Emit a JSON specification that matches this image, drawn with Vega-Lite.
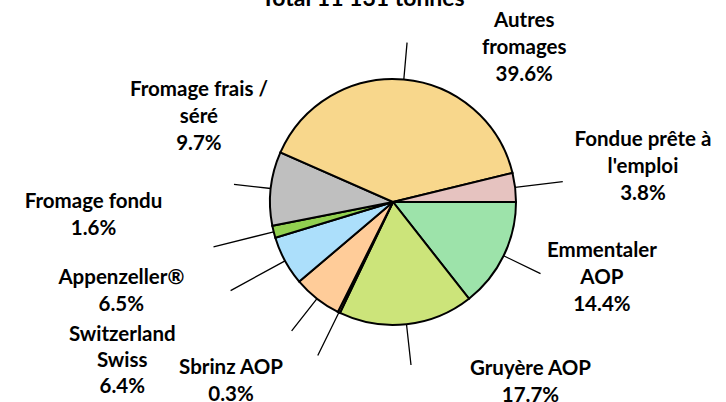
{
  "$schema": "https://vega.github.io/schema/vega-lite/v6.json",
  "width": 666,
  "height": 384,
  "autosize": {"type": "none"},
  "padding": {"left": 60, "top": 10, "right": 0, "bottom": 8},
  "background": "white",
  "title": {"text": "Total 11 131 tonnes", "font": "Lato", "fontSize": 23, "fontWeight": "bold", "color": "black", "anchor": "middle", "baseline": "alphabetic", "dx": -30, "offset": -19},
  "config": {"view": {"stroke": null}},
  "data": {"values": [
    {"cat": "Emmentaler AOP", "o": 1, "share": 14.4, "label": "Emmentaler\nAOP\n14.4%"},
    {"cat": "Gruyère AOP", "o": 2, "share": 17.7, "label": "Gruyère AOP\n17.7%"},
    {"cat": "Sbrinz AOP", "o": 3, "share": 0.3, "label": "Sbrinz AOP\n0.3%"},
    {"cat": "Switzerland Swiss", "o": 4, "share": 6.4, "label": "Switzerland\nSwiss\n6.4%"},
    {"cat": "Appenzeller®", "o": 5, "share": 6.5, "label": "Appenzeller®\n6.5%"},
    {"cat": "Fromage fondu", "o": 6, "share": 1.6, "label": "Fromage fondu\n1.6%"},
    {"cat": "Fromage frais / séré", "o": 7, "share": 9.7, "label": "Fromage frais /\nséré\n9.7%"},
    {"cat": "Autres fromages", "o": 8, "share": 39.6, "label": "Autres\nfromages\n39.6%"},
    {"cat": "Fondue prête à l'emploi", "o": 9, "share": 3.8, "label": "Fondue prête à\nl'emploi\n3.8%"}
  ]},
  "encoding": {
    "theta": {"field": "share", "type": "quantitative", "stack": true, "scale": {"domain": [0, 100], "range": [1.5707963, 7.8539816]}},
    "order": {"field": "o", "type": "quantitative", "sort": "ascending"},
    "detail": {"field": "cat", "type": "nominal"}
  },
  "layer": [
    {
      "mark": {"type": "arc", "radius": 123, "stroke": "black", "strokeWidth": 2},
      "encoding": {
        "color": {"field": "cat", "type": "nominal", "legend": null,
          "scale": {
            "domain": ["Emmentaler AOP", "Gruyère AOP", "Sbrinz AOP", "Switzerland Swiss", "Appenzeller®", "Fromage fondu", "Fromage frais / séré", "Autres fromages", "Fondue prête à l'emploi"],
            "range": ["#9DE3AA", "#CCE47A", "#F4B183", "#FFCC99", "#ACDFFB", "#92D050", "#BFBFBF", "#F8D78C", "#E6C3C0"]
          }
        }
      }
    },
    {
      "mark": {"type": "arc", "radius": 160, "radius2": 123, "padAngle": 3, "fillOpacity": 0, "stroke": "black", "strokeWidth": 1.3},
      "encoding": {"strokeOpacity": {"condition": {"test": "datum.o === 7 || datum.o === 8", "value": 1}, "value": 0}}
    },
    {
      "mark": {"type": "arc", "radius": 164, "radius2": 123, "padAngle": 3, "fillOpacity": 0, "stroke": "black", "strokeWidth": 1.3},
      "encoding": {"strokeOpacity": {"condition": {"test": "datum.o === 1 || datum.o === 2 || datum.o === 4", "value": 1}, "value": 0}}
    },
    {
      "mark": {"type": "arc", "radius": 171, "radius2": 123, "padAngle": 3, "fillOpacity": 0, "stroke": "black", "strokeWidth": 1.3},
      "encoding": {"strokeOpacity": {"condition": {"test": "datum.o === 3 || datum.o === 9", "value": 1}, "value": 0}}
    },
    {
      "mark": {"type": "arc", "radius": 185, "radius2": 123, "padAngle": 3, "fillOpacity": 0, "stroke": "black", "strokeWidth": 1.3},
      "encoding": {"strokeOpacity": {"condition": {"test": "datum.o === 5 || datum.o === 6", "value": 1}, "value": 0}}
    },
    {
      "transform": [{"stack": "share", "groupby": [], "sort": [{"field": "o", "order": "ascending"}], "as": ["s0", "s1"]}, {"filter": "datum.o === 1"}],
      "mark": {"type": "text", "radius": 150, "dx": 58.9, "dy": 48.6, "font": "Lato", "fontSize": 20.5, "fontWeight": "bold", "lineBreak": "\n", "lineHeight": 27, "align": "center", "baseline": "middle", "color": "black"},
      "encoding": {"theta": {"field": "s0", "type": "quantitative", "stack": null, "scale": {"domain": [0, 100], "range": [1.5707963, 7.8539816]}}, "text": {"field": "label"}}
    },
    {
      "transform": [{"stack": "share", "groupby": [], "sort": [{"field": "o", "order": "ascending"}], "as": ["s0", "s1"]}, {"filter": "datum.o === 2"}],
      "mark": {"type": "text", "radius": 150, "dx": 44.8, "dy": 49.2, "font": "Lato", "fontSize": 20.5, "fontWeight": "bold", "lineBreak": "\n", "lineHeight": 27, "align": "center", "baseline": "middle", "color": "black"},
      "encoding": {"theta": {"field": "s0", "type": "quantitative", "stack": null, "scale": {"domain": [0, 100], "range": [1.5707963, 7.8539816]}}, "text": {"field": "label"}}
    },
    {
      "transform": [{"stack": "share", "groupby": [], "sort": [{"field": "o", "order": "ascending"}], "as": ["s0", "s1"]}, {"filter": "datum.o === 3"}],
      "mark": {"type": "text", "radius": 150, "dx": -97.3, "dy": 30.4, "font": "Lato", "fontSize": 20.5, "fontWeight": "bold", "lineBreak": "\n", "lineHeight": 27, "align": "center", "baseline": "middle", "color": "black"},
      "encoding": {"theta": {"field": "s0", "type": "quantitative", "stack": null, "scale": {"domain": [0, 100], "range": [1.5707963, 7.8539816]}}, "text": {"field": "label"}}
    },
    {
      "transform": [{"stack": "share", "groupby": [], "sort": [{"field": "o", "order": "ascending"}], "as": ["s0", "s1"]}, {"filter": "datum.o === 4"}],
      "mark": {"type": "text", "radius": 150, "dx": -203.5, "dy": -1.2, "font": "Lato", "fontSize": 20.5, "fontWeight": "bold", "lineBreak": "\n", "lineHeight": 26, "align": "center", "baseline": "middle", "color": "black"},
      "encoding": {"theta": {"field": "s0", "type": "quantitative", "stack": null, "scale": {"domain": [0, 100], "range": [1.5707963, 7.8539816]}}, "text": {"field": "label"}}
    },
    {
      "transform": [{"stack": "share", "groupby": [], "sort": [{"field": "o", "order": "ascending"}], "as": ["s0", "s1"]}, {"filter": "datum.o === 5"}],
      "mark": {"type": "text", "radius": 150, "dx": -157.3, "dy": -21.1, "font": "Lato", "fontSize": 20.5, "fontWeight": "bold", "lineBreak": "\n", "lineHeight": 27, "align": "center", "baseline": "middle", "color": "black"},
      "encoding": {"theta": {"field": "s0", "type": "quantitative", "stack": null, "scale": {"domain": [0, 100], "range": [1.5707963, 7.8539816]}}, "text": {"field": "label"}}
    },
    {
      "transform": [{"stack": "share", "groupby": [], "sort": [{"field": "o", "order": "ascending"}], "as": ["s0", "s1"]}, {"filter": "datum.o === 6"}],
      "mark": {"type": "text", "radius": 150, "dx": -156, "dy": -43.3, "font": "Lato", "fontSize": 20.5, "fontWeight": "bold", "lineBreak": "\n", "lineHeight": 27, "align": "center", "baseline": "middle", "color": "black"},
      "encoding": {"theta": {"field": "s0", "type": "quantitative", "stack": null, "scale": {"domain": [0, 100], "range": [1.5707963, 7.8539816]}}, "text": {"field": "label"}}
    },
    {
      "transform": [{"stack": "share", "groupby": [], "sort": [{"field": "o", "order": "ascending"}], "as": ["s0", "s1"]}, {"filter": "datum.o === 7"}],
      "mark": {"type": "text", "radius": 150, "dx": -46.9, "dy": -141.5, "font": "Lato", "fontSize": 20.5, "fontWeight": "bold", "lineBreak": "\n", "lineHeight": 27, "align": "center", "baseline": "middle", "color": "black"},
      "encoding": {"theta": {"field": "s0", "type": "quantitative", "stack": null, "scale": {"domain": [0, 100], "range": [1.5707963, 7.8539816]}}, "text": {"field": "label"}}
    },
    {
      "transform": [{"stack": "share", "groupby": [], "sort": [{"field": "o", "order": "ascending"}], "as": ["s0", "s1"]}, {"filter": "datum.o === 8"}],
      "mark": {"type": "text", "radius": 150, "dx": 268.5, "dy": -121, "font": "Lato", "fontSize": 20.5, "fontWeight": "bold", "lineBreak": "\n", "lineHeight": 27, "align": "center", "baseline": "middle", "color": "black"},
      "encoding": {"theta": {"field": "s0", "type": "quantitative", "stack": null, "scale": {"domain": [0, 100], "range": [1.5707963, 7.8539816]}}, "text": {"field": "label"}}
    },
    {
      "transform": [{"stack": "share", "groupby": [], "sort": [{"field": "o", "order": "ascending"}], "as": ["s0", "s1"]}, {"filter": "datum.o === 9"}],
      "mark": {"type": "text", "radius": 150, "dx": 104.2, "dy": -26.4, "font": "Lato", "fontSize": 20.5, "fontWeight": "bold", "lineBreak": "\n", "lineHeight": 27, "align": "center", "baseline": "middle", "color": "black"},
      "encoding": {"theta": {"field": "s0", "type": "quantitative", "stack": null, "scale": {"domain": [0, 100], "range": [1.5707963, 7.8539816]}}, "text": {"field": "label"}}
    }
  ]
}
